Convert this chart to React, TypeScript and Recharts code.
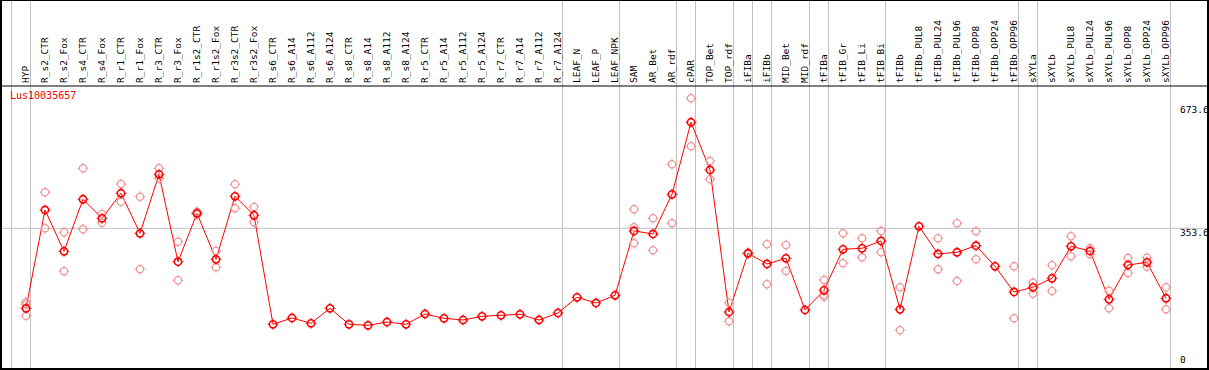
import React from 'react';
import { ComposedChart, Line, XAxis, YAxis, ReferenceLine } from 'recharts';

// sample names, left to right
const categories = [
    'HYP', 'R_s2_CTR', 'R_s2_Fox', 'R_s4_CTR', 'R_s4_Fox', 'R_r1_CTR', 'R_r1_Fox', 'R_r3_CTR', 'R_r3_Fox',
    'R_r1s2_CTR', 'R_r1s2_Fox', 'R_r3s2_CTR', 'R_r3s2_Fox', 'R_s6_CTR', 'R_s6_A14', 'R_s6_A112', 'R_s6_A124',
    'R_s8_CTR', 'R_s8_A14', 'R_s8_A112', 'R_s8_A124', 'R_r5_CTR', 'R_r5_A14', 'R_r5_A112', 'R_r5_A124',
    'R_r7_CTR', 'R_r7_A14', 'R_r7_A112', 'R_r7_A124', 'LEAF_N', 'LEAF_P', 'LEAF_NPK', 'SAM', 'AR_Bet', 'AR_rdf',
    'cPAR', 'TOP_Bet', 'TOP_rdf', 'iFIBa', 'iFIBb', 'MID_Bet', 'MID_rdf', 'tFIBa', 'tFIB_Gr', 'tFIB_Li', 'tFIB_Bi',
    'tFIBb', 'tFIBb_PUL8', 'tFIBb_PUL24', 'tFIBb_PUL96', 'tFIBb_OPP8', 'tFIBb_OPP24', 'tFIBb_OPP96', 'sXYLa',
    'sXYLb', 'sXYLb_PUL8', 'sXYLb_PUL24', 'sXYLb_PUL96', 'sXYLb_OPP8', 'sXYLb_OPP24', 'sXYLb_OPP96',
];

// mean expression per sample
const meanValues = [
    146.7, 401, 294.1, 428.7, 379.5, 444.2, 340.7, 493.3, 267.2, 392.4, 273.4, 436.4, 387.3,
    105.3, 121.6, 107.9, 146.7, 105.3, 102.7, 111.2, 105.3, 131.9, 120.8, 116.4, 126,
    128.6, 131.2, 116.4, 134.5, 175.1, 160.4, 180.3, 346.7, 338.9, 441.6, 627.9, 504.5, 137.1,
    289, 261.3, 276, 142.3, 193.2, 299.3, 301.9, 320.8, 144.1, 358.8, 287.2, 291.6, 308.6,
    255.3, 188.9, 201, 224.3, 307.1, 294.9, 170, 258.7, 265.7, 172.6,
];

// replicates (null = hidden behind the mean)
const rep1 = [
    162.2, 446.8, 343.3, 508.9, 390.9, 468.2, 435.4, 508.9, 319, 396.6, 294.9, 467.5, 408.7,
    null, null, null, null, null, null, null, null, null, null, null, null,
    null, null, null, null, null, null, null, 402.8, 379.5, 519.2, 690, 527.7, 161.2,
    290.5, 312.3, 310.4, null, 219.9, 340.7, 327.8, 346.7, 201, null, 327.8, 366.6, 345.9,
    null, 255.3, 212.9, 257.9, 333, 301.9, 192.2, 276.8, 277.6, 201,
];
const rep2 = [
    127.5, 353.6, 242.4, 351.1, 368.1, 422.5, 247.6, 483, 219.1, 389, 252.7, 405.4, 369.2,
    null, null, null, null, null, null, null, null, null, null, null, null,
    null, null, null, null, null, null, null, 315, 296.7, 366.6, 565.8, 480.4, 113.1,
    287.2, 208.8, 243.2, null, 176.7, 263.1, 278.6, 291.6, 89.8, null, 247.6, 217.3, 273.4,
    null, 120.8, 184.5, 191.4, 281.2, 286.4, 146.7, 238, 254.3, 144.1,
];
const rep3 = [
    157, null, null, null, null, null, null, null, null, null, null, null, null,
    null, null, null, null, null, null, null, null, null, null, null, null,
    null, null, null, null, null, null, null, 356.2, null, null, null, null, null,
    null, null, null, null, 182, null, null, null, null, null, null, null, null,
    null, null, null, null, null, null, null, null, null, null,
];

// group boundaries: a grey line follows each of these sample indices
const separatorsAfter = [-1, 0, 28, 31, 34, 35, 37, 38, 39, 41, 42, 45, 52, 53, 60];
const yTicks = [0, 353.6, 673.6];
const geneName = 'Lus10035657';

// layout
const W = 1209;
const H = 370;
const FIRST_X = 26;
const STEP = 19;
const ZERO_Y = 365;
const PLOT_BOTTOM = 368;
const HEADER_Y = 86;
const PX_PER_UNIT = 136.7 / 353.6;
const FONT = '"DejaVu Sans Mono", monospace';

const toValue = (py: number) => (ZERO_Y - py) / PX_PER_UNIT;

const data = categories.map((name, i) => ({
    idx: i,
    name,
    mean: meanValues[i],
    r1: rep1[i],
    r2: rep2[i],
    r3: rep3[i],
}));

const marker = (color: string, width: number) => (props: any) => {
    const { cx, cy, value, index } = props;
    if (value == null || cy == null || isNaN(cy)) return <g key={index} />;
    const r = 3.6;
    const t = 1.8;
    return (
        <g key={index} stroke={color} strokeWidth={width} fill="none">
            <circle cx={cx} cy={cy} r={r} />
            <line x1={cx} y1={cy - r} x2={cx} y2={cy - r - t} strokeWidth={1} />
            <line x1={cx} y1={cy + r} x2={cx} y2={cy + r + t} strokeWidth={1} />
            <line x1={cx - r} y1={cy} x2={cx - r - t} y2={cy} strokeWidth={1} />
            <line x1={cx + r} y1={cy} x2={cx + r + t} y2={cy} strokeWidth={1} />
        </g>
    );
};

const CategoryTick = (props: any) => {
    const { x, payload } = props;
    const label = categories[payload.value];
    if (label === undefined) return <g />;
    const tx = x + 3;
    const ty = 83;
    return (
        <text x={tx} y={ty} transform={`rotate(-90, ${tx}, ${ty})`} fontFamily={FONT} fontSize={9.5} fill="#000">
            {label}
        </text>
    );
};

const ValueTick = (props: any) => {
    const { y, payload } = props;
    const dy = payload.value === 0 ? -2 : 8;
    return (
        <text x={1180} y={y + dy} fontFamily={FONT} fontSize={9.5} fill="#000">
            {payload.value}
        </text>
    );
};

const App: React.FC = () => {
    const xDomain = [-FIRST_X / STEP, (W - FIRST_X) / STEP];
    const yDomain = [toValue(PLOT_BOTTOM), toValue(0)];

    return (
        <div style={{ position: 'absolute', left: 0, top: 0, width: W, height: H, background: '#fff' }}>
            <ComposedChart width={W} height={H} data={data} margin={{ top: 0, right: 0, bottom: H - PLOT_BOTTOM, left: 0 }}>
                <XAxis
                    dataKey="idx"
                    type="number"
                    orientation="top"
                    mirror
                    domain={xDomain}
                    allowDataOverflow
                    ticks={categories.map((_, i) => i)}
                    interval={0}
                    tick={<CategoryTick />}
                    tickLine={false}
                    axisLine={false}
                />
                <YAxis
                    type="number"
                    orientation="right"
                    mirror
                    domain={yDomain}
                    allowDataOverflow
                    ticks={yTicks}
                    interval={0}
                    tick={<ValueTick />}
                    tickLine={false}
                    axisLine={false}
                />
                <ReferenceLine y={353.6} stroke="#c0c0c0" strokeWidth={1} />
                {separatorsAfter.map((s) => (
                    <ReferenceLine key={s} x={s + 4.5 / STEP} stroke="#c0c0c0" strokeWidth={1} />
                ))}
                <ReferenceLine y={toValue(HEADER_Y)} stroke="#000" strokeWidth={1} />
                <Line dataKey="r1" stroke="none" dot={marker('#f09393', 1.2)} isAnimationActive={false} activeDot={false} />
                <Line dataKey="r2" stroke="none" dot={marker('#f09393', 1.2)} isAnimationActive={false} activeDot={false} />
                <Line dataKey="r3" stroke="none" dot={marker('#f09393', 1.2)} isAnimationActive={false} activeDot={false} />
                <Line
                    dataKey="mean"
                    type="linear"
                    stroke="#ff0000"
                    strokeWidth={1}
                    dot={marker('#ff0000', 1.6)}
                    isAnimationActive={false}
                    activeDot={false}
                />
            </ComposedChart>
            <div
                style={{
                    position: 'absolute',
                    left: 10,
                    top: 90,
                    fontFamily: FONT,
                    fontSize: 10,
                    color: '#ff0000',
                    lineHeight: '12px',
                }}
            >
                {geneName}
            </div>
            <div
                style={{
                    position: 'absolute',
                    left: 0,
                    top: 0,
                    width: W,
                    height: H,
                    boxSizing: 'border-box',
                    borderTop: '1px solid #000',
                    borderLeft: '2px solid #000',
                    borderRight: '2px solid #000',
                    borderBottom: '2px solid #000',
                    pointerEvents: 'none',
                }}
            />
        </div>
    );
};

export default App;
